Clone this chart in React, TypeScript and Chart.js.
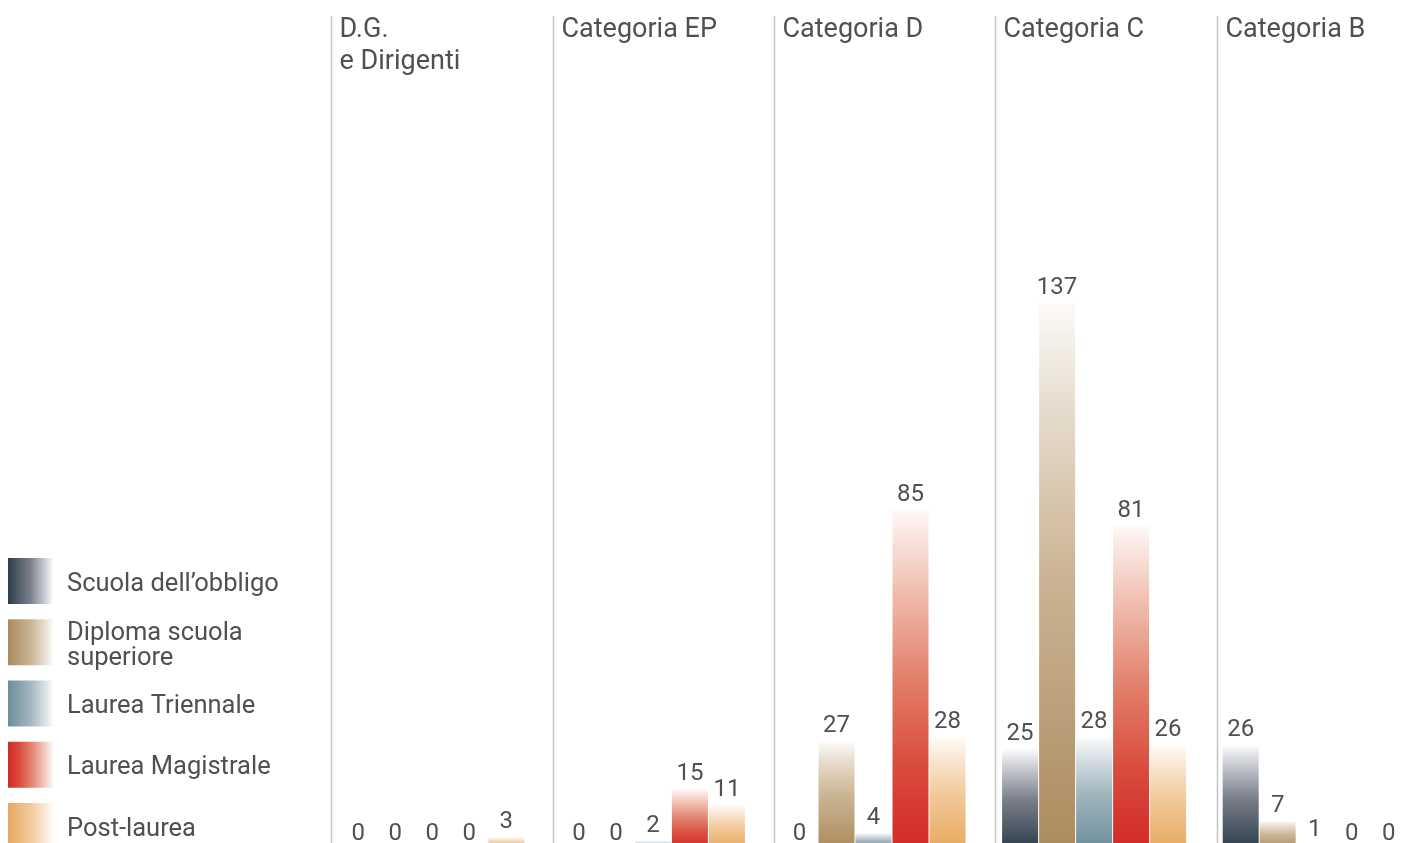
import React, { useEffect, useRef } from 'react';
import { Chart, registerables } from 'chart.js';

Chart.register(...registerables);

const categories: string[][] = [
  ['D.G.', 'e Dirigenti'],
  ['Categoria EP'],
  ['Categoria D'],
  ['Categoria C'],
  ['Categoria B'],
];

const seriesNames: string[][] = [
  ['Scuola dell’obbligo'],
  ['Diploma scuola', 'superiore'],
  ['Laurea Triennale'],
  ['Laurea Magistrale'],
  ['Post-laurea'],
];

// gradient stops per series: [offset, colour] from solid (0) to pale (1)
const seriesStops: [number, string][][] = [
  [[0, '#2c3e4b'], [0.5, '#7b808b'], [0.8, '#c6c8cf'], [1, '#fbfbfc']],
  [[0, '#ac8b5e'], [0.5, '#cbb494'], [0.8, '#e6dbcb'], [1, '#fcfbf8']],
  [[0, '#6b8f9b'], [0.5, '#a2b6be'], [0.8, '#d5dfe3'], [1, '#fafbfc']],
  [[0, '#d12a28'], [0.25, '#d94c3d'], [0.5, '#e27f6a'], [0.75, '#efbbab'], [1, '#fdf8f6']],
  [[0, '#e8a960'], [0.5, '#f1ca9b'], [0.8, '#f9e6d2'], [1, '#fffbf8']],
];

const scuolaObbligo = [0, 0, 0, 25, 26];
const diplomaSuperiore = [0, 0, 27, 137, 7];
const laureaTriennale = [0, 2, 4, 28, 1];
const laureaMagistrale = [0, 15, 85, 81, 0];
const postLaurea = [3, 11, 28, 26, 0];

const seriesValues = [scuolaObbligo, diplomaSuperiore, laureaTriennale, laureaMagistrale, postLaurea];

const yMax = 213;
const TEXT_COLOR = '#505050';
const FONT = 'Roboto, "Liberation Sans", sans-serif';

function barGradient(stops: [number, string][]) {
  const base = stops[0][1];
  return (ctx: any) => {
    const chart = ctx.chart;
    const area = chart.chartArea;
    const yScale = chart.scales && chart.scales.y;
    if (!area || !yScale || ctx.type !== 'data') return base;
    const top = yScale.getPixelForValue(ctx.raw);
    const bottom = yScale.getPixelForValue(0);
    if (bottom - top < 0.5) return base;
    const g = chart.ctx.createLinearGradient(0, bottom, 0, top);
    stops.forEach(([o, c]) => g.addColorStop(o, c));
    return g;
  };
}

const separatorsAndTitles = {
  id: 'separatorsAndTitles',
  beforeDatasetsDraw(chart: any) {
    const ctx = chart.ctx;
    const xs = chart.scales.x;
    ctx.save();
    categories.forEach((lines, i) => {
      const x = Math.round(xs.getPixelForValue(i) - 99.5 + (i - 2) * 0.7) + 0.5;
      ctx.strokeStyle = '#c4c4c4';
      ctx.lineWidth = 1.5;
      ctx.beginPath();
      ctx.moveTo(x, 16);
      ctx.lineTo(x, chart.height);
      ctx.stroke();
      ctx.fillStyle = TEXT_COLOR;
      ctx.font = `400 27px ${FONT}`;
      ctx.textAlign = 'left';
      ctx.textBaseline = 'alphabetic';
      lines.forEach((line, li) => {
        ctx.fillText(line, x + 8, 37 + li * 32);
      });
    });
    ctx.restore();
  },
};

const valueLabels = {
  id: 'valueLabels',
  afterDatasetsDraw(chart: any) {
    const ctx = chart.ctx;
    ctx.save();
    ctx.font = `400 24px ${FONT}`;
    ctx.fillStyle = TEXT_COLOR;
    ctx.textAlign = 'center';
    ctx.textBaseline = 'alphabetic';
    chart.data.datasets.forEach((ds: any, di: number) => {
      const meta = chart.getDatasetMeta(di);
      meta.data.forEach((el: any, i: number) => {
        ctx.fillText(String(ds.data[i]), el.x, el.y - 9);
      });
    });
    ctx.restore();
  },
};

const legendPlugin = {
  id: 'sideLegend',
  afterDraw(chart: any) {
    const ctx = chart.ctx;
    ctx.save();
    ctx.font = `400 25.5px ${FONT}`;
    ctx.textAlign = 'left';
    ctx.textBaseline = 'alphabetic';
    seriesNames.forEach((lines, i) => {
      const top = 558 + i * 61.25;
      const left = 8;
      const w = 45;
      const h = 46;
      const g = ctx.createLinearGradient(left, 0, left + w, 0);
      seriesStops[i].forEach(([o, c]) => g.addColorStop(o, c));
      ctx.fillStyle = g;
      ctx.fillRect(left, top, w, h);
      ctx.fillStyle = TEXT_COLOR;
      if (lines.length === 1) {
        ctx.fillText(lines[0], 67, top + 32.5);
      } else {
        lines.forEach((line, li) => ctx.fillText(line, 67, top + 20.5 + li * 25.5));
      }
    });
    ctx.restore();
  },
};

export default function App() {
  const canvasRef = useRef<HTMLCanvasElement | null>(null);

  useEffect(() => {
    const canvas = canvasRef.current;
    if (!canvas) return;
    const chart = new Chart(canvas, {
      type: 'bar',
      data: {
        labels: categories.map((c) => c.join(' ')),
        datasets: seriesValues.map((values, i) => ({
          label: seriesNames[i].join(' '),
          data: values,
          backgroundColor: barGradient(seriesStops[i]),
          borderWidth: 0,
          categoryPercentage: 185 / 220.6,
          barPercentage: 36 / 37,
        })),
      },
      options: {
        responsive: false,
        animation: false,
        devicePixelRatio: 1,
        layout: { padding: { left: 322, right: 5, top: 0, bottom: 0 } },
        plugins: {
          legend: { display: false },
          tooltip: { enabled: false },
          title: { display: false },
        },
        scales: {
          x: { display: false, grid: { display: false } },
          y: { display: false, min: 0, max: yMax, grid: { display: false } },
        },
      },
      plugins: [separatorsAndTitles, valueLabels, legendPlugin],
    });
    return () => chart.destroy();
  }, []);

  return (
    <div
      style={{
        position: 'fixed',
        left: 0,
        top: 0,
        width: 1401,
        height: 843,
        overflow: 'hidden',
        background: '#ffffff',
      }}
    >
      <canvas ref={canvasRef} width={1430} height={849} style={{ display: 'block' }} />
    </div>
  );
}
